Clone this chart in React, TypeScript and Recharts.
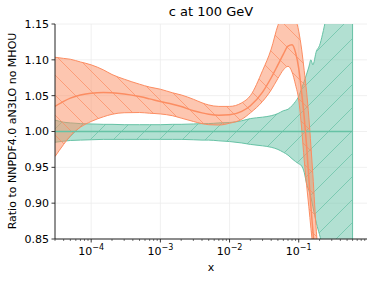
import { ComposedChart, Area, Line, XAxis, YAxis, CartesianGrid, ReferenceLine } from "recharts";

// x grid shared by both bands
const xs = [
  3e-5, 4e-5, 5e-5, 7e-5, 1e-4, 1.5e-4, 2e-4, 3e-4, 5e-4, 7e-4,
  1e-3, 1.5e-3, 2e-3, 3e-3, 4e-3, 5e-3, 7e-3, 1e-2, 1.5e-2, 2e-2,
  3e-2, 4e-2, 5e-2, 6e-2, 7e-2, 8e-2, 9e-2, 0.1, 0.11, 0.12,
  0.13, 0.14, 0.15, 0.16, 0.18, 0.2, 0.22, 0.25, 0.3, 0.4,
  0.5, 0.6,
];

// orange band (aN3LO with MHOU)
const orangeHigh = [
  1.1036, 1.102, 1.1008, 1.097, 1.093, 1.086, 1.0795, 1.073, 1.066, 1.062,
  1.059, 1.054, 1.051, 1.045, 1.04, 1.037, 1.035, 1.035, 1.04, 1.05,
  1.085, 1.115, 1.148, 1.165, 1.175, 1.175, 1.158, 1.14, 1.115, 1.085,
  1.055, 1.02, 0.98, 0.94, 0.86, 0.81, 0.76, null, null, null,
  null, null,
];
const orangeMid = [
  1.035, 1.042, 1.0465, 1.051, 1.0535, 1.0543, 1.054, 1.0523, 1.0487, 1.0455,
  1.0418, 1.038, 1.0348, 1.029, 1.026, 1.0242, 1.0228, 1.0233, 1.028, 1.036,
  1.055, 1.075, 1.093, 1.108, 1.119, 1.121, 1.11, 1.088, 1.055, 1.02,
  0.98, 0.935, 0.895, 0.862, 0.8, 0.74, 0.69, null, null, null,
  null, null,
];
const orangeLow = [
  0.965, 0.982, 0.994, 1.006, 1.014, 1.0205, 1.024, 1.0262, 1.0265, 1.0255,
  1.0245, 1.022, 1.0187, 1.014, 1.011, 1.0095, 1.009, 1.0115, 1.017, 1.026,
  1.042, 1.058, 1.074, 1.086, 1.091, 1.083, 1.065, 1.044, 1.005, 0.96,
  0.925, 0.895, 0.865, 0.838, 0.78, 0.72, 0.67, null, null, null,
  null, null,
];

// green band (reference, no MHOU)
const greenHigh = [
  1.016, 1.013, 1.012, 1.011, 1.0105, 1.01, 1.01, 1.0095, 1.0095, 1.0095,
  1.0095, 1.01, 1.01, 1.0105, 1.011, 1.011, 1.012, 1.0125, 1.015, 1.018,
  1.02, 1.022, 1.025, 1.029, 1.031, 1.036, 1.042, 1.049, 1.06, 1.07,
  1.08, 1.09, 1.1, 1.093, 1.112, 1.12, 1.135, 1.16, 1.2, 1.26,
  1.3, 1.33,
];
const greenMid = [
  1, 1, 1, 1, 1, 1, 1, 1, 1, 1,
  1, 1, 1, 1, 1, 1, 1, 1, 1, 1,
  1, 1, 1, 1, 1, 1, 1, 1, 1, 1,
  1, 1, 1, 1, 1, 1, 1, 1, 1, 1,
  1, 1,
];
const greenLow = [
  0.985, 0.9865, 0.9875, 0.988, 0.9885, 0.989, 0.989, 0.989, 0.989, 0.989,
  0.989, 0.989, 0.989, 0.9885, 0.988, 0.988, 0.987, 0.986, 0.984, 0.982,
  0.98, 0.978, 0.975, 0.971, 0.967, 0.962, 0.958, 0.955, 0.952, 0.943,
  0.927, 0.918, 0.908, 0.895, 0.872, 0.856, 0.84, 0.81, 0.77, 0.72,
  0.7, 0.68,
];

const yTicks = [0.85, 0.9, 0.95, 1.0, 1.05, 1.1, 1.15];
const xMajor = [1e-4, 1e-3, 1e-2, 1e-1];
const xMajorExp = ["−4", "−3", "−2", "−1"];
const xMinor = [
  3e-5, 4e-5, 5e-5, 6e-5, 7e-5, 8e-5, 9e-5,
  2e-4, 3e-4, 4e-4, 5e-4, 6e-4, 7e-4, 8e-4, 9e-4,
  2e-3, 3e-3, 4e-3, 5e-3, 6e-3, 7e-3, 8e-3, 9e-3,
  2e-2, 3e-2, 4e-2, 5e-2, 6e-2, 7e-2, 8e-2, 9e-2,
  0.2, 0.3, 0.4, 0.5, 0.6, 0.7, 0.8, 0.9,
];

const ORANGE = "#fc8d62";
const GREEN = "#66c2a5";
const FONT = "DejaVu Sans";

const rows = xs.map((x, i) => ({
  x,
  oHi: orangeHigh[i],
  oMid: orangeMid[i],
  oLo: orangeLow[i],
  gHi: greenHigh[i],
  gMid: greenMid[i],
  gLo: greenLow[i],
}));

function XTick({ x, y, payload }: any) {
  const idx = xMajor.indexOf(payload.value);
  const major = idx >= 0;
  return (
    <g>
      <line x1={x} x2={x} y1={y} y2={y + (major ? 3.5 : 2)} stroke="#222" strokeWidth={major ? 0.9 : 0.6} />
      {major && (
        <text x={x} y={y + 16} textAnchor="middle" fontSize={11} fontFamily={FONT} fill="#000">
          <tspan>10</tspan>
          <tspan dy={-5} fontSize={8}>{xMajorExp[idx]}</tspan>
        </text>
      )}
    </g>
  );
}

export default function App() {
  const greenEnd = xs[xs.length - 1];
  return (
    <div style={{ position: "absolute", left: 0, top: 0, width: 374, height: 281, background: "#fff", fontFamily: FONT }}>
      <div style={{ position: "absolute", left: 55, width: 312, top: 4, textAlign: "center", fontSize: 13, lineHeight: "16px", color: "#000" }}>
        c at 100 GeV
      </div>
      <ComposedChart width={374} height={281} data={rows} margin={{ top: 24, right: 7, bottom: 0, left: 0 }}>
        <defs>
          <pattern id="hatchOrange" patternUnits="userSpaceOnUse" width="20" height="20">
            <rect width="20" height="20" fill={ORANGE} fillOpacity={0.5} />
            <path d="M0,0 L20,20 M-2,18 L2,22 M18,-2 L22,2" stroke={ORANGE} strokeWidth={0.7} />
          </pattern>
          <pattern id="hatchGreen" patternUnits="userSpaceOnUse" width="23" height="23">
            <rect width="23" height="23" fill={GREEN} fillOpacity={0.5} />
            <path d="M0,23 L23,0 M-2,2 L2,-2 M21,25 L25,21" stroke={GREEN} strokeWidth={0.7} />
          </pattern>
        </defs>
        <CartesianGrid stroke="#ececec" strokeWidth={0.8} verticalValues={xMajor} />
        <XAxis
          dataKey="x"
          type="number"
          scale="log"
          domain={[3e-5, 0.97]}
          allowDataOverflow
          ticks={[...xMajor, ...xMinor]}
          interval={0}
          tick={<XTick />}
          tickLine={false}
          tickSize={0}
          tickMargin={0}
          height={42}
          axisLine={{ stroke: "#222", strokeWidth: 1 }}
          label={{
            content: () => (
              <text x={211} y={271} textAnchor="middle" fontSize={11} fontFamily={FONT} fill="#000">
                x
              </text>
            ),
          }}
        />
        <YAxis
          type="number"
          domain={[0.85, 1.15]}
          allowDataOverflow
          ticks={yTicks}
          interval={0}
          width={55}
          tickSize={3.5}
          tickMargin={2.5}
          tickFormatter={(v: number) => v.toFixed(2)}
          tick={{ fontSize: 11, fill: "#000", fontFamily: FONT }}
          tickLine={{ stroke: "#222", strokeWidth: 0.9 }}
          axisLine={{ stroke: "#222", strokeWidth: 1 }}
          label={{
            content: () => (
              <text x={12} y={131} transform="rotate(-90 12 131)" textAnchor="middle" dominantBaseline="central" fontSize={11} fontFamily={FONT} fill="#000">
                Ratio to NNPDF4.0 aN3LO no MHOU
              </text>
            ),
          }}
        />
        <Area
          type="monotone"
          dataKey={(d: any) => (d.gLo == null ? null : [d.gLo, d.gHi])}
          fill="url(#hatchGreen)"
          fillOpacity={1}
          stroke={GREEN}
          strokeWidth={1}
          isAnimationActive={false}
        />
        <ReferenceLine x={greenEnd} stroke={GREEN} strokeWidth={1} />
        <Line type="monotone" dataKey="gMid" stroke={GREEN} strokeWidth={1.5} dot={false} isAnimationActive={false} />
        <Area
          type="monotone"
          dataKey={(d: any) => (d.oLo == null ? null : [d.oLo, d.oHi])}
          fill="url(#hatchOrange)"
          fillOpacity={1}
          stroke={ORANGE}
          strokeWidth={1}
          isAnimationActive={false}
        />
        <Line type="monotone" dataKey="oMid" stroke={ORANGE} strokeWidth={1.5} dot={false} isAnimationActive={false} />
      </ComposedChart>
    </div>
  );
}
